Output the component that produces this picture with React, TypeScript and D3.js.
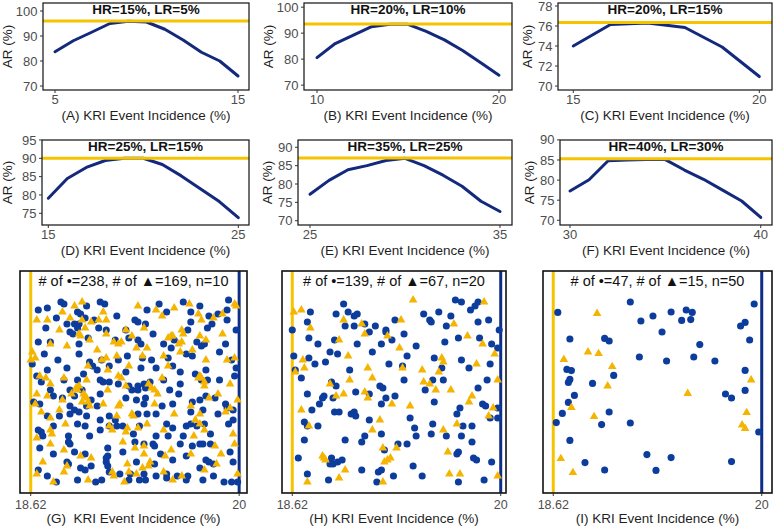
import React from "react";
import * as d3 from "d3";

// ---------- Panels A–F: AR (%) against KRI event incidence (%) ----------
const incidenceA = [5, 6, 7, 8, 9, 10, 11, 12, 13, 14, 15];
const arA = [83.7, 88.1, 91.5, 95.0, 95.9, 95.6, 92.7, 88.4, 83.5, 80.0, 74.0];
const incidenceB = [10, 11, 12, 13, 14, 15, 16, 17, 18, 19, 20];
const arB = [80.6, 86.0, 89.2, 92.5, 93.4, 93.4, 90.7, 87.4, 83.3, 78.6, 73.8];
const incidenceC = [15, 16, 17, 18, 19, 20];
const arC = [74.0, 76.15, 76.3, 75.85, 73.9, 70.95];
const incidenceD = [15, 16, 17, 18, 19, 20, 21, 22, 23, 24, 25];
const arD = [79.1, 84.5, 87.5, 89.4, 90.0, 90.0, 88.3, 85.2, 81.7, 78.2, 73.8];
const incidenceE = [25, 26, 27, 28, 29, 30, 31, 32, 33, 34, 35];
const arE = [77.2, 81.0, 83.9, 85.0, 86.4, 87.0, 85.0, 82.4, 79.4, 75.3, 72.5];
const incidenceF = [30, 31, 32, 33, 34, 35, 36, 37, 38, 39, 40];
const arF = [77.3, 80.1, 84.8, 85.0, 85.1, 85.1, 82.5, 80.2, 77.5, 74.8, 70.7];

// horizontal reference AR for each panel
const optimalAR = [96.0, 93.5, 76.35, 90.0, 87.1, 85.3];
const rateLabels = [
  "HR=15%, LR=5%",
  "HR=20%, LR=10%",
  "HR=20%, LR=15%",
  "HR=25%, LR=15%",
  "HR=35%, LR=25%",
  "HR=40%, LR=30%",
];
const panelLetters = ["A", "B", "C", "D", "E", "F", "G", "H", "I"];
const yTicksA = [70, 80, 90, 100];
const yTicksB = [70, 80, 90, 100];
const yTicksC = [70, 72, 74, 76, 78];
const yTicksD = [75, 80, 85, 90, 95];
const yTicksE = [70, 75, 80, 85, 90];
const yTicksF = [70, 75, 80, 85, 90];

// ---------- Panels G–I: simulated incidences, jitter score 0–100 ----------
const incidenceLow = 18.62;
const incidenceHigh = 20;
const sampleSizes = [10, 20, 50];

const gCircles: [number, number][] = [
  [18.82,94],[18.84,93],[19.08,94],[19.11,93],[19.47,93],[19.63,94],[19.93,95],[18.67,90],[18.73,91],[18.93,89],[18.95,88],[19.52,89],[19.68,89],[19.80,87],[19.86,88],[19.92,90],
  [18.79,86],[18.91,83],[18.94,83],[18.93,81],[18.98,86],[19.04,85],[19.31,85],[19.33,84],[19.38,83],[19.25,80],[19.07,81],[19.12,80],[18.72,81],[18.88,79],[18.90,78],[19.68,84],[19.92,85],[19.79,81],[19.66,80],
  [18.75,74],[18.94,73],[19.00,76],[19.27,76],[19.33,75],[19.35,73],[19.50,73],[19.57,75],[19.72,74],[19.75,72],[19.77,73],[19.91,73],[19.55,71],
  [18.63,63],[18.71,68],[18.94,68],[19.09,65],[19.20,65],[19.26,67],[19.36,66],[19.42,65],[19.53,66],[19.61,59],[19.69,67],[19.78,60],[19.95,65],[19.98,61],[18.86,61],[19.01,64],[19.03,62],[19.06,60],[19.35,61],[18.73,60],
  [18.69,54],[18.84,55],[18.93,55],[19.08,55],[19.10,54],[19.14,54],[19.33,52],[19.37,53],[19.38,51],[19.41,54],[19.50,55],[19.54,50],[19.71,58],[19.79,55],[19.75,55],[19.97,57],[18.88,50],[18.96,50],[19.27,52],[19.29,50],[19.33,50],
  [18.77,47],[18.83,46],[18.91,47],[18.99,42],[19.02,45],[18.64,44],[18.68,43],[19.08,48],[19.06,42],[19.25,46],[19.32,45],[19.38,46],[19.37,43],[19.49,42],[19.69,44],[19.74,45],[19.78,47],[19.84,46],[19.91,43],[19.96,40],[19.60,48],
  [18.88,42],[18.91,40],[18.81,37],[18.88,38],[18.94,39],[19.14,37],[19.18,35],[19.33,38],[19.39,38],[19.68,39],[19.76,40],[19.86,38],[19.92,41],
  [18.67,30],[18.69,29],[18.70,27],[18.77,32],[18.93,33],[18.98,32],[19.08,30],[19.14,32],[19.19,32],[19.23,32],[19.34,32],[19.52,33],[19.56,31],[19.65,32],[19.68,33],[19.72,32],[19.77,33],[19.93,33],[18.87,27],[19.45,27],[19.53,27],
  [18.68,21],[18.87,24],[18.88,23],[18.91,19],[18.98,18],[19.13,21],[19.13,17],[19.31,24],[19.37,23],[19.43,23],[19.44,22],[19.61,23],[19.69,22],[19.74,23],[19.76,23],[19.81,23],[19.56,15],[19.78,15],[19.80,14],[19.94,19],
  [18.67,10],[18.79,4],[18.86,14],[18.87,13],[18.95,11],[18.98,10],[19.05,4],[19.09,5],[19.12,16],[19.12,14],[19.13,12],[19.14,9],[19.21,8],[19.27,5],[19.34,5],[19.38,5],[19.28,8],[19.37,8],[19.44,13],[19.45,7],[19.52,8],[19.52,6],[19.59,7],[19.66,7],[19.65,5],[19.83,7],[19.83,13],[19.90,4],[19.95,4],[19.99,4],
  [18.67,74],[19.18,75],[19.43,78],[19.82,83],[19.87,69],[19.65,68],[19.45,61],[19.25,59],[18.80,65],[18.66,57],[18.97,58],[19.20,53],[19.61,53],[19.87,55],[18.75,50],[19.45,38],[19.56,43],[18.99,37],[19.08,35],[18.73,37],[19.96,35],[19.81,28],
  [19.63,27],[19.30,28],[19.01,27],[18.77,18],[19.23,19],[19.48,18],[19.65,17],[19.96,14],[19.74,11],[19.32,14],[19.02,12],[18.73,7],[18.93,5],[19.76,5],[19.56,62],[19.14,62],[18.86,83],[19.19,87],[19.39,90],[19.74,92],[18.99,92],[19.98,80],
];

const gTriangles: [number, number][] = [
  [18.96,94],[19.67,93],[19.97,93],[19.98,92],[18.91,92],[18.83,89],[19.10,89],[19.33,92],[19.57,91],[19.73,88],[19.89,88],[19.49,87],[19.45,90],[18.73,85],[18.66,85],[18.88,86],[18.96,85],[19.02,84],[19.07,85],[19.12,85],
  [19.37,81],[19.25,80],[19.12,78],[18.81,80],[18.98,81],[19.75,85],[19.83,86],[19.89,78],[19.55,77],[18.75,73],[18.94,78],[18.95,77],[19.01,75],[18.86,72],[19.06,70],[19.17,74],[19.20,73],[19.22,74],[19.29,77],[19.32,71],
  [19.53,76],[19.56,77],[19.62,80],[19.63,78],[19.62,74],[19.60,73],[19.74,77],[19.78,75],[19.69,70],[19.61,69],[19.39,71],[18.63,69],[18.65,66],[18.62,65],[19.09,65],[19.12,66],[19.19,67],[19.36,67],[19.50,67],[19.53,62],
  [19.78,65],[19.92,65],[19.97,66],[19.00,62],[19.27,62],[19.13,60],[18.68,57],[18.72,56],[18.75,53],[18.84,56],[18.94,52],[18.99,55],[19.20,57],[19.22,56],[19.40,53],[19.42,51],[19.44,50],[19.49,56],[19.46,48],[19.74,57],
  [19.73,56],[19.75,56],[19.77,54],[19.77,52],[19.94,53],[18.92,51],[18.93,50],[18.97,48],[19.13,50],[19.25,52],[18.66,48],[18.73,47],[18.83,45],[18.89,48],[18.98,47],[18.99,46],[19.01,42],[18.96,44],[19.00,44],[18.65,43],
  [19.10,43],[19.20,42],[19.21,43],[19.44,43],[19.68,42],[19.80,46],[19.86,48],[19.94,41],[19.99,45],[18.81,40],[18.69,39],[18.75,36],[19.19,37],[19.29,38],[19.30,37],[19.57,38],[19.74,38],[19.91,39],[18.75,30],[18.76,28],
  [18.85,33],[19.14,32],[19.16,30],[19.25,29],[19.26,31],[19.33,31],[19.39,33],[19.50,30],[19.71,35],[19.74,33],[19.77,30],[19.96,28],[19.70,27],[18.66,26],[18.75,23],[18.84,20],[19.02,16],[19.23,24],[19.31,21],[19.37,22],
  [19.37,18],[19.55,20],[19.84,22],[19.68,18],[19.97,23],[19.51,17],[19.88,18],[18.70,14],[18.66,8],[18.77,4],[18.84,9],[18.86,12],[18.95,17],[19.00,5],[19.16,9],[19.17,7],[19.26,13],[19.27,9],[19.24,4],[19.32,8],
  [19.36,11],[19.40,12],[19.41,14],[19.50,9],[19.56,5],[19.62,7],[19.77,10],[19.85,13],[19.99,8],
];

const hCircles: [number, number][] = [
  [18.96,93],[19.70,95],[19.74,94],[19.85,94],[19.83,92],[19.80,90],[18.74,89],[18.91,88],[18.99,89],[19.03,87],[19.05,88],[19.49,88],[19.59,89],[19.53,85],[19.54,84],[19.67,87],[19.30,85],[19.85,84],[19.92,85],[18.72,84],
  [18.62,80],[18.97,82],[19.03,82],[19.10,83],[19.17,82],[19.24,80],[19.24,79],[19.13,79],[19.28,75],[19.36,78],[18.73,76],[18.79,73],[18.90,75],[19.05,73],[19.21,73],[19.72,76],[19.86,76],[19.63,74],[19.94,73],[19.98,71],
  [18.87,69],[18.92,68],[19.15,69],[18.63,67],[18.73,66],[18.77,63],[18.84,64],[18.64,60],[18.68,56],[19.26,63],[19.38,67],[19.35,62],[19.56,66],[19.74,65],[19.79,61],[19.61,61],[19.00,60],[19.36,55],[18.88,54],[18.91,52],
  [19.55,55],[19.62,55],[19.50,50],[19.91,55],[19.85,51],[19.20,52],[19.22,51],[19.04,49],[18.72,48],[18.83,47],[18.82,46],[18.89,46],[19.24,46],[19.30,47],[19.21,43],[19.13,48],[19.56,44],[19.73,41],[19.88,43],[19.90,42],
  [19.98,41],[19.93,36],[19.98,36],[19.71,38],[18.75,40],[18.80,43],[18.90,39],[18.93,39],[19.01,38],[19.03,39],[19.04,37],[18.70,34],[18.72,32],[18.79,32],[19.40,36],[19.43,31],[19.55,33],[19.21,28],[19.10,27],[19.44,27],
  [19.54,28],[19.75,32],[19.81,32],[19.74,27],[19.81,24],[18.70,25],[19.08,24],[19.32,23],[19.38,23],[19.23,20],[19.72,19],[19.71,18],[19.82,16],[19.84,15],[19.94,14],[18.88,16],[18.87,13],[18.89,13],[18.92,14],[18.95,15],
  [18.66,16],[19.08,10],[19.19,9],[19.21,10],[19.29,7],[19.48,7],[18.72,8],[18.86,5],[19.18,4],[19.72,4],[19.89,5],
  [19.64,82],[19.44,72],[19.93,63],[19.13,35],[19.64,27],[18.97,25],[19.42,12],[19.99,80],
];

const hTriangles: [number, number][] = [
  [19.42,95],[19.89,94],[18.63,89],[18.68,90],[19.34,85],[19.69,83],[18.74,81],[19.08,83],[19.10,78],[19.25,77],[18.93,75],[19.78,77],[19.88,73],[19.33,71],[19.96,68],[18.99,67],[18.69,65],[18.70,61],[18.64,59],[19.35,61],
  [19.61,66],[19.62,64],[19.84,63],[19.59,59],[19.48,60],[19.12,61],[19.15,56],[19.00,55],[18.87,53],[19.49,54],[19.53,53],[19.57,50],[19.67,50],[19.98,55],[19.10,49],[19.12,46],[18.91,47],[18.96,48],[19.28,43],[19.81,47],
  [19.79,44],[19.95,41],[19.92,37],[18.68,40],[18.73,32],[19.20,35],[19.15,30],[19.62,30],[19.71,33],[19.31,21],[19.22,21],[19.65,19],[18.82,17],[18.83,16],[18.84,15],[19.23,14],[19.25,15],[19.27,16],[18.97,10],[19.66,8],
  [19.73,8],[18.72,4],[18.93,6],[19.22,4],[19.98,7],[19.40,42],[18.96,85],
];

const iCircles: [number, number][] = [
  [19.13,94],[19.95,93],[18.65,88.8],[19.40,89],[19.50,90],[19.54,88.8],[19.28,87],[19.20,84.5],[19.47,84.8],[19.53,85.2],[19.89,83.8],[19.86,82],[19.34,79],[18.73,75.5],[18.96,75.8],[18.99,74.5],
  [19.92,75],[19.59,72.7],[19.19,66.5],[19.37,64.5],[19.55,66.5],[19.69,64.5],[18.71,60.3],[18.74,59.7],[19.89,59.8],[19.02,57.3],[18.73,55.3],[18.72,53.8],[18.88,53.3],[19.89,49.8],[18.76,47.3],[19.76,48],
  [19.80,46],[18.72,43.8],[18.68,38.3],[18.99,39],[18.64,33.7],[18.94,32.7],[19.13,33.5],[19.98,29],[18.73,24.8],[19.24,17.7],[19.40,16.2],[18.83,13.7],[19.80,14.2],[18.96,10],[19.30,9.8],
];

const iTriangles: [number, number][] = [
  [18.91,88.3],[18.69,65.3],[18.85,69],[18.92,68.2],[19.01,61.7],[18.98,52],[19.93,55],[19.51,48.3],[18.74,41.3],[18.89,36.7],[19.90,38.7],[19.87,32.5],[19.89,30.8],[18.67,15.7],[18.75,8.7],
];

// ---------- styling ----------
const FONT = "'Liberation Sans', Arial, Helvetica, sans-serif";
const CURVE = "#13297c";
const GOLD = "#f6c300";
const DOT_BLUE = "#0c3c9c";
const TRI_GOLD = "#f4b400";
const EDGE_BLUE = "#0f2f86";
const TICK_TEXT = "#4d4d4d";
const TITLE_TEXT = "#1f1f1f";

type Box = { x0: number; x1: number; y0: number; y1: number };

type CurvePanel = {
  letter: string;
  incidence: number[];
  ar: number[];
  optimal: number;
  label: string;
  yTicks: number[];
  xDomain: [number, number];
  yDomain: [number, number];
  box: Box;
  arLabelGap: number;
};

const curveInputs = [
  { incidence: incidenceA, ar: arA, yTicks: yTicksA },
  { incidence: incidenceB, ar: arB, yTicks: yTicksB },
  { incidence: incidenceC, ar: arC, yTicks: yTicksC },
  { incidence: incidenceD, ar: arD, yTicks: yTicksD },
  { incidence: incidenceE, ar: arE, yTicks: yTicksE },
  { incidence: incidenceF, ar: arF, yTicks: yTicksF },
];

// frame, axis extents and label gap for each small panel
const curveLayout: { box: Box; xDomain: [number, number]; yDomain: [number, number]; arLabelGap: number }[] = [
  { box: { x0: 43, x1: 249, y0: 3, y1: 90 }, xDomain: [4.344, 15.6], yDomain: [68.4, 103.2], arLabelGap: 35.5 },
  { box: { x0: 304, x1: 512, y0: 3, y1: 90 }, xDomain: [9.286, 20.714], yDomain: [68.125, 101.6], arLabelGap: 36 },
  { box: { x0: 558, x1: 772, y0: 3, y1: 90 }, xDomain: [14.589, 20.341], yDomain: [69.605, 78.3], arLabelGap: 31 },
  { box: { x0: 42, x1: 249, y0: 140, y1: 225 }, xDomain: [14.668, 25.563], yDomain: [71.81, 94.99], arLabelGap: 34.5 },
  { box: { x0: 298, x1: 512, y0: 140, y1: 225 }, xDomain: [24.368, 35.632], yDomain: [68.83, 91.99], arLabelGap: 31 },
  { box: { x0: 560, x1: 772, y0: 140, y1: 225 }, xDomain: [29.476, 40.59], yDomain: [68.83, 89.975], arLabelGap: 31 },
];

const curvePanels: CurvePanel[] = curveInputs.map((c, i) => ({
  letter: panelLetters[i],
  incidence: c.incidence,
  ar: c.ar,
  optimal: optimalAR[i],
  label: rateLabels[i],
  yTicks: c.yTicks,
  ...curveLayout[i],
}));

type ScatterPanel = {
  letter: string;
  circles: [number, number][];
  triangles: [number, number][];
  n: number;
  box: Box;
  xDomain: [number, number];
  labelGap: string;
};

const scatterPanels: ScatterPanel[] = [
  { letter: "G", circles: gCircles, triangles: gTriangles, n: sampleSizes[0], box: { x0: 20, x1: 247, y0: 271, y1: 493 }, xDomain: [18.549, 20.052], labelGap: "  " },
  { letter: "H", circles: hCircles, triangles: hTriangles, n: sampleSizes[1], box: { x0: 282, x1: 506, y0: 271, y1: 493 }, xDomain: [18.552, 20.035], labelGap: " " },
  { letter: "I", circles: iCircles, triangles: iTriangles, n: sampleSizes[2], box: { x0: 543, x1: 772, y0: 271, y1: 493 }, xDomain: [18.552, 20.068], labelGap: " " },
];

function CurveChart({ p }: { p: CurvePanel }) {
  const { box } = p;
  const x = d3.scaleLinear().domain(p.xDomain).range([box.x0, box.x1]);
  const y = d3.scaleLinear().domain(p.yDomain).range([box.y1, box.y0]);
  const path = d3
    .line<number>()
    .x((_, i) => x(p.incidence[i]))
    .y((d) => y(d))(p.ar);
  const xTicks = [p.incidence[0], p.incidence[p.incidence.length - 1]];
  const cx = (box.x0 + box.x1) / 2;
  const cy = (box.y0 + box.y1) / 2;
  return (
    <g>
      <path d={path ?? ""} fill="none" stroke={CURVE} strokeWidth={3} strokeLinejoin="round" strokeLinecap="round" />
      <line x1={box.x0} x2={box.x1} y1={y(p.optimal)} y2={y(p.optimal)} stroke={GOLD} strokeWidth={3} />
      <rect x={box.x0} y={box.y0} width={box.x1 - box.x0} height={box.y1 - box.y0} fill="none" stroke="#111" strokeWidth={1.2} />
      <text x={cx} y={box.y0 + 11} textAnchor="middle" fontFamily={FONT} fontWeight="bold" fontSize={13.5} fill="#111">
        {p.label}
      </text>
      {p.yTicks.map((t) => (
        <g key={t}>
          <line x1={box.x0 - 3} x2={box.x0} y1={y(t)} y2={y(t)} stroke="#333" strokeWidth={1} />
          <text x={box.x0 - 5.5} y={y(t)} dy="0.35em" textAnchor="end" fontFamily={FONT} fontSize={13} fill={TICK_TEXT}>
            {t}
          </text>
        </g>
      ))}
      {xTicks.map((t) => (
        <g key={t}>
          <line x1={x(t)} x2={x(t)} y1={box.y1} y2={box.y1 + 3} stroke="#333" strokeWidth={1} />
          <text x={x(t)} y={box.y1 + 14} textAnchor="middle" fontFamily={FONT} fontSize={13} fill={TICK_TEXT}>
            {t}
          </text>
        </g>
      ))}
      <text x={cx} y={box.y1 + 30} textAnchor="middle" fontFamily={FONT} fontSize={13.5} fill={TITLE_TEXT}>
        {`(${p.letter}) KRI Event Incidence (%)`}
      </text>
      <text
        transform={`translate(${box.x0 - p.arLabelGap},${cy}) rotate(-90)`}
        textAnchor="middle"
        dy="0.35em"
        fontFamily={FONT}
        fontSize={13.5}
        fill={TITLE_TEXT}
      >
        AR (%)
      </text>
    </g>
  );
}

const triangle = d3.symbol(d3.symbolTriangle, 32)() ?? "";

function ScatterChart({ p }: { p: ScatterPanel }) {
  const { box } = p;
  const x = d3.scaleLinear().domain(p.xDomain).range([box.x0, box.x1]);
  const y = d3.scaleLinear().domain([-1.5, 109.5]).range([box.y1, box.y0]);
  const cx = (box.x0 + box.x1) / 2;
  const ticks = [incidenceLow, incidenceHigh];
  return (
    <g>
      <line x1={x(incidenceLow)} x2={x(incidenceLow)} y1={box.y0} y2={box.y1} stroke={GOLD} strokeWidth={3} />
      <line x1={x(incidenceHigh)} x2={x(incidenceHigh)} y1={box.y0} y2={box.y1} stroke={EDGE_BLUE} strokeWidth={3} />
      {p.circles.map(([cxv, cyv], i) => (
        <circle key={`c${i}`} cx={x(cxv)} cy={y(cyv)} r={3.55} fill={DOT_BLUE} />
      ))}
      {p.triangles.map(([tx, ty], i) => (
        <path key={`t${i}`} d={triangle} transform={`translate(${x(tx)},${y(ty)})`} fill={TRI_GOLD} />
      ))}
      <rect x={box.x0} y={box.y0} width={box.x1 - box.x0} height={box.y1 - box.y0} fill="none" stroke="#111" strokeWidth={1.6} />
      <text x={cx} y={box.y0 + 15} textAnchor="middle" fontFamily={FONT} fontSize={14.5} fill="#111" style={{ whiteSpace: "pre" }}>
        {`# of \u2022=${p.circles.length}, # of \u25B2=${p.triangles.length}, n=${p.n}`}
      </text>
      {ticks.map((t) => (
        <g key={t}>
          <line x1={x(t)} x2={x(t)} y1={box.y1} y2={box.y1 + 3} stroke="#333" strokeWidth={1} />
          <text x={x(t)} y={box.y1 + 16} textAnchor="middle" fontFamily={FONT} fontSize={12.5} fill={TICK_TEXT}>
            {t}
          </text>
        </g>
      ))}
      <text x={cx} y={box.y1 + 30} textAnchor="middle" fontFamily={FONT} fontSize={13.5} fill={TITLE_TEXT} style={{ whiteSpace: "pre" }}>
        {`(${p.letter})${p.labelGap}KRI Event Incidence (%)`}
      </text>
    </g>
  );
}

export default function App() {
  return (
    <svg
      width={777}
      height={528}
      viewBox="0 0 777 528"
      style={{ position: "absolute", left: 0, top: 0, background: "#fff" }}
    >
      <rect x={0} y={0} width={777} height={528} fill="#fff" />
      {curvePanels.map((p) => (
        <CurveChart key={p.letter} p={p} />
      ))}
      {scatterPanels.map((p) => (
        <ScatterChart key={p.letter} p={p} />
      ))}
    </svg>
  );
}
